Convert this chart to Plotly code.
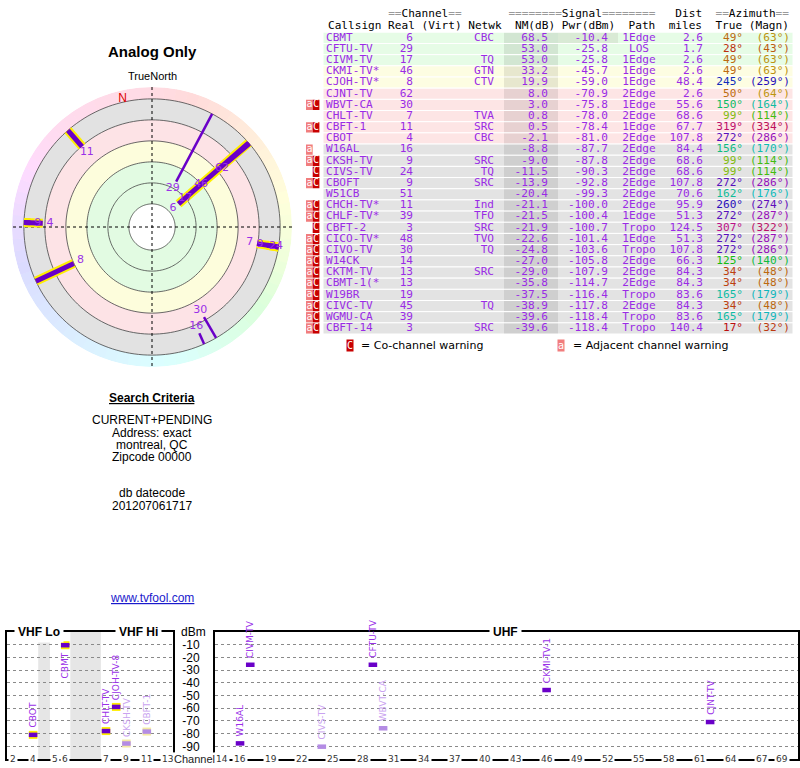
import colorsys
import numpy as np
import plotly.graph_objects as go

# ---------------- station list (analog, montreal QC) ----------------
callsigns = ["CBMT", "CFTU-TV", "CIVM-TV", "CKMI-TV*", "CJOH-TV*", "CJNT-TV", "WBVT-CA",
             "CHLT-TV", "CBFT-1", "CBOT", "W16AL", "CKSH-TV", "CIVS-TV", "CBOFT", "W51CB",
             "CHCH-TV*", "CHLF-TV*", "CBFT-2", "CICO-TV*", "CIVO-TV", "W14CK", "CKTM-TV",
             "CBMT-1(*", "W19BR", "CIVC-TV", "WGMU-CA", "CBFT-14"]
real_ch = [6, 29, 17, 46, 8, 62, 30, 7, 11, 4, 16, 9, 24, 9, 51, 11, 39, 3, 48, 30, 14, 13,
           13, 19, 45, 39, 3]
networks = ["CBC", "", "TQ", "GTN", "CTV", "", "", "TVA", "SRC", "CBC", "", "SRC", "TQ", "SRC",
            "", "Ind", "TFO", "SRC", "TVO", "TQ", "", "SRC", "", "", "TQ", "", "SRC"]
nm_db = [68.5, 53.0, 53.0, 33.2, 19.9, 8.0, 3.0, 0.8, 0.5, -2.1, -8.8, -9.0, -11.5, -13.9,
         -20.4, -21.1, -21.5, -21.9, -22.6, -24.8, -27.0, -29.0, -35.8, -37.5, -38.9, -39.6, -39.6]
pwr_dbm = [-10.4, -25.8, -25.8, -45.7, -59.0, -70.9, -75.8, -78.0, -78.4, -81.0, -87.7, -87.8,
           -90.3, -92.8, -99.3, -100.0, -100.4, -100.7, -101.4, -103.6, -105.8, -107.9, -114.7,
           -116.4, -117.8, -118.4, -118.4]
paths = ["1Edge", "LOS", "1Edge", "1Edge", "1Edge", "2Edge", "1Edge", "2Edge", "1Edge", "2Edge",
         "2Edge", "2Edge", "2Edge", "2Edge", "2Edge", "2Edge", "1Edge", "Tropo", "1Edge", "Tropo",
         "2Edge", "2Edge", "2Edge", "Tropo", "2Edge", "Tropo", "Tropo"]
dist_mi = [2.6, 1.7, 2.6, 2.6, 48.4, 2.6, 55.6, 68.6, 67.7, 107.8, 84.4, 68.6, 68.6, 107.8, 70.6,
           95.9, 51.3, 124.5, 51.3, 107.8, 66.3, 84.3, 84.3, 83.6, 84.3, 83.6, 140.4]
az_true = [49, 28, 49, 49, 245, 50, 150, 99, 319, 272, 156, 99, 99, 272, 162, 260, 272, 307, 272,
           272, 125, 34, 34, 165, 34, 165, 17]
az_magn = [63, 43, 63, 63, 259, 64, 164, 114, 334, 286, 170, 114, 114, 286, 176, 274, 287, 322,
           287, 286, 140, 48, 48, 179, 48, 179, 32]
warn_adj = [0, 0, 0, 0, 0, 0, 1, 0, 1, 0, 1, 1, 0, 1, 0, 1, 1, 0, 1, 1, 1, 1, 1, 1, 1, 1, 1]
warn_co = [0, 0, 0, 0, 0, 0, 1, 0, 1, 0, 0, 1, 1, 1, 0, 1, 1, 1, 1, 1, 1, 1, 1, 1, 1, 1, 1]

# ---------------- spectrum panel ----------------
spec_labels = ["CBOT", "CBMT", "CHLT-TV", "CJOH-TV-8", "CKSH-TV", "CBFT-1", "W16AL", "CIVM-TV",
               "CIVS-TV", "CFTU-TV", "WBVT-CA", "CKMI-TV-1", "CJNT-TV"]
spec_ch = [4, 6, 7, 8, 9, 11, 16, 17, 24, 29, 30, 46, 62]
spec_dbm = [-81.0, -10.4, -78.0, -59.0, -87.8, -78.4, -87.7, -25.8, -90.3, -25.8, -75.8, -45.7, -70.9]
spec_faded = [0, 0, 0, 0, 1, 1, 0, 0, 1, 0, 1, 0, 0]
vhf_ticks = [2, 4, 5, 6, 7, 9, 11, 13]
uhf_ticks = [14, 16, 19, 22, 25, 28, 31, 34, 37, 40, 43, 46, 49, 52, 55, 58, 61, 64, 67, 69]
dbm_ticks = [-10, -20, -30, -40, -50, -60, -70, -80, -90]

W, H = 800, 768
MONO = "DejaVu Sans Mono"
SANS = "Liberation Sans, Arial"
TXT_PURPLE = "#9a2be6"
BAR_PURPLE = "#6a00c8"


def px_x(v):
    return v / W


def px_y(v):
    return 1 - v / H


# colour wheel used for azimuths (text colours and the outer ring)
AZ_KEYS = [0, 17, 49, 99, 125, 150, 165, 245, 272, 307, 319, 360]
HUE_KEYS = [-15, 0, 32, 80, 118, 150, 172, 230, 265, 318, 328, 345]


def az_color(a, sat, light):
    h = (np.interp(a % 360, AZ_KEYS, HUE_KEYS) % 360) / 360
    r, g, b = colorsys.hls_to_rgb(h, light, sat)
    return "rgb(%d,%d,%d)" % (r * 255, g * 255, b * 255)


fig = go.Figure()
n = len(callsigns)
rows = list(range(n))

# ==========================
#  table (right side)
# ==========================
def row_fill(v):
    if v >= 40:
        return "#e6fce6"
    if v >= 15:
        return "#fdfde2"
    if v >= -5:
        return "#fde5e5"
    return "#e3e3e3"


fig.add_trace(go.Bar(
    y=rows, x=[470] * n, base=323, orientation="h", width=1,
    marker=dict(color=[row_fill(v) for v in nm_db], line=dict(color="white", width=1)),
    hoverinfo="skip"))
# darker NM(dB) column
fig.add_trace(go.Bar(
    y=rows, x=[54] * n, base=504, orientation="h", width=0.9,
    marker=dict(color="rgba(0,0,0,0.085)", line=dict(width=0)), hoverinfo="skip"))
# strongest power cell
fig.add_trace(go.Bar(
    y=rows[:1], x=[60], base=558, orientation="h", width=0.9,
    marker=dict(color="rgba(90,60,40,0.09)", line=dict(width=0)), hoverinfo="skip"))

# warning boxes
adj_rows = [i for i in rows if warn_adj[i]]
co_rows = [i for i in rows if warn_co[i]]
fig.add_trace(go.Bar(y=adj_rows, x=[6.7] * len(adj_rows), base=306, orientation="h", width=0.92,
                     marker=dict(color="#f17d7d", line=dict(width=0)), hoverinfo="skip"))
fig.add_trace(go.Bar(y=co_rows, x=[6.7] * len(co_rows), base=312.7, orientation="h", width=0.92,
                     marker=dict(color="#c80000", line=dict(width=0)), hoverinfo="skip"))
fig.add_trace(go.Scatter(x=[309.4] * len(adj_rows), y=adj_rows, mode="text",
                         text=["a"] * len(adj_rows), textposition="middle center",
                         textfont=dict(family=MONO, size=10, color="white"), hoverinfo="skip"))
fig.add_trace(go.Scatter(x=[316.1] * len(co_rows), y=co_rows, mode="text",
                         text=["C"] * len(co_rows), textposition="middle center",
                         textfont=dict(family=MONO, size=10, color="white"), hoverinfo="skip"))


def col_text(x, texts, pos, colors=TXT_PURPLE):
    fig.add_trace(go.Scatter(
        x=[x] * n, y=rows, mode="text", text=texts, textposition=pos,
        textfont=dict(family=MONO, size=11.1, color=colors), hoverinfo="skip", cliponaxis=False))


col_text(326, callsigns, "middle right")
col_text(413, [str(c) for c in real_ch], "middle left")
col_text(494, networks, "middle left")
col_text(548, ["%.1f" % v for v in nm_db], "middle left")
col_text(608, ["%.1f" % v for v in pwr_dbm], "middle left")
col_text(639, paths, "middle center")
col_text(703, ["%.1f" % v for v in dist_mi], "middle left")
col_text(743, ["%d\u00b0" % a for a in az_true], "middle left",
         [az_color(a, 0.85, 0.40) for a in az_true])
col_text(790, ["(%d\u00b0)" % a for a in az_magn], "middle left",
         [az_color(a, 0.85, 0.40) for a in az_magn])

# ==========================
#  radar plot (left)
# ==========================
NM_CENTER = 102      # NM value at the centre of the radar
NM_EDGE = -31.3      # NM value at the rim


def to_r(v):
    return NM_CENTER - v


band_top = [NM_CENTER, 80, 40, 20, 0]
band_bot = [80, 40, 20, 0, -20]
band_colors = ["#ffffff", "#e2fbe2", "#fdfddc", "#fde3e6", "#e2e2e2"]
fig.add_trace(go.Barpolar(
    r=[t - b for t, b in zip(band_top, band_bot)], base=[to_r(t) for t in band_top],
    theta=[0] * len(band_top), width=[360] * len(band_top),
    marker=dict(color=band_colors, line=dict(width=0)), hoverinfo="skip", subplot="polar"))

ring_theta = list(range(0, 360, 5))
fig.add_trace(go.Barpolar(
    r=[to_r(NM_EDGE) - to_r(-20)] * len(ring_theta), base=[to_r(-20)] * len(ring_theta),
    theta=[t + 2.5 for t in ring_theta], width=[5.2] * len(ring_theta),
    marker=dict(color=[az_color(t + 2.5, 1.0, 0.93) for t in ring_theta], line=dict(width=0)),
    hoverinfo="skip", subplot="polar"))

# range circles
circ_t, circ_r = [], []
for lvl in [80, 60, 40, 20, 0, -20]:
    circ_t += list(range(0, 361, 2)) + [None]
    circ_r += [to_r(lvl)] * 181 + [None]
fig.add_trace(go.Scatterpolar(r=circ_r, theta=circ_t, mode="lines",
                              line=dict(color="#444444", width=0.8), hoverinfo="skip",
                              subplot="polar"))
# compass cross
rim = to_r(NM_EDGE)
fig.add_trace(go.Scatterpolar(r=[rim, 0, rim, None, rim, 0, rim],
                              theta=[0, 0, 180, None, 90, 90, 270], mode="lines",
                              line=dict(color="black", width=1, dash="dot"), hoverinfo="skip",
                              subplot="polar"))

radar = [i for i in rows if nm_db[i] > -15]
thick = [i for i in radar if real_ch[i] <= 13]
thin = [i for i in radar if real_ch[i] > 13]
# labels are pulled 7 units inwards; a crowded one is pushed outwards instead
label_nudge = {"CIVS-TV": 13}


def segs(idx):
    rr, tt = [], []
    for i in idx:
        rr += [to_r(nm_db[i]), to_r(-20), None]
        tt += [az_true[i], az_true[i], None]
    return rr, tt


rr, tt = segs(thick)
fig.add_trace(go.Scatterpolar(r=rr, theta=tt, mode="lines", line=dict(color="#ffee00", width=9),
                              hoverinfo="skip", subplot="polar"))
fig.add_trace(go.Scatterpolar(r=rr, theta=tt, mode="lines", line=dict(color=BAR_PURPLE, width=5),
                              hoverinfo="skip", subplot="polar"))
rr, tt = segs(thin)
fig.add_trace(go.Scatterpolar(r=rr, theta=tt, mode="lines", line=dict(color=BAR_PURPLE, width=2.5),
                              hoverinfo="skip", subplot="polar"))
fig.add_trace(go.Scatterpolar(
    r=[to_r(nm_db[i]) - 7 + label_nudge.get(callsigns[i], 0) for i in radar],
    theta=[az_true[i] for i in radar], mode="text",
    text=[str(real_ch[i]) for i in radar],
    textfont=dict(family="DejaVu Sans", size=11, color="#9a30e8"),
    hoverinfo="skip", subplot="polar"))
fig.add_trace(go.Scatterpolar(r=[124.8], theta=[-13], mode="text", text=["N"],
                              textfont=dict(family=SANS, size=12, color="#dd0000"),
                              hoverinfo="skip", subplot="polar"))

# ==========================
#  spectrum (bottom)
# ==========================
def vhf_slot(ch):
    return ch - 2 + (1.15 if ch >= 5 else 0) + (3.0 if ch >= 7 else 0)


def spec_x(ch):
    return vhf_slot(ch) if ch <= 13 else ch


for band, xa, ya in [(True, "x2", "y2"), (False, "x3", "y3")]:
    for faded in (0, 1):
        idx = [i for i in range(len(spec_ch)) if (spec_ch[i] <= 13) == band and spec_faded[i] == faded]
        if not idx:
            continue
        xs, ys = [], []
        for i in idx:
            xc = spec_x(spec_ch[i])
            xs += [xc - 0.42, xc + 0.42, None]
            ys += [spec_dbm[i], spec_dbm[i], None]
        if band:
            fig.add_trace(go.Scatter(x=xs, y=ys, mode="lines", xaxis=xa, yaxis=ya,
                                     line=dict(color="#f3eaa4" if faded else "#ffee00", width=8),
                                     hoverinfo="skip"))
        fig.add_trace(go.Scatter(x=xs, y=ys, mode="lines", xaxis=xa, yaxis=ya,
                                 line=dict(color="#b48ce4" if faded else BAR_PURPLE, width=4.5),
                                 hoverinfo="skip"))

annotations = []
for i, lab in enumerate(spec_labels):
    vhf = spec_ch[i] <= 13
    above = spec_dbm[i] < -20
    annotations.append(dict(
        x=spec_x(spec_ch[i]), y=spec_dbm[i], xref="x2" if vhf else "x3", yref="y2" if vhf else "y3",
        text=lab, textangle=-90, showarrow=False, xanchor="center",
        yanchor="bottom" if above else "top", yshift=5 if above else -5,
        font=dict(family="DejaVu Sans", size=9, color="#c9a2f0" if spec_faded[i] else "#9a30e8")))

for t in vhf_ticks:
    annotations.append(dict(x=vhf_slot(t), y=0, xref="x2", yref="y2 domain", text=str(t),
                            showarrow=False, bgcolor="white", borderpad=1,
                            xanchor="center", yanchor="middle",
                            font=dict(family="DejaVu Sans", size=9, color="#333")))
for t in uhf_ticks:
    annotations.append(dict(x=t, y=0, xref="x3", yref="y3 domain", text=str(t),
                            showarrow=False, bgcolor="white", borderpad=1,
                            xanchor="center", yanchor="middle", xshift=2 if t == 14 else 0,
                            font=dict(family="DejaVu Sans", size=9, color="#333")))

for txt, x in [("VHF Lo", 39), ("VHF Hi", 138), ("UHF", 505)]:
    annotations.append(dict(x=px_x(x), y=px_y(632), xref="paper", yref="paper",
                            text="<b>%s</b>" % txt, showarrow=False, bgcolor="white", borderpad=3,
                            xanchor="center", yanchor="middle",
                            font=dict(family=SANS, size=12, color="black")))
annotations.append(dict(x=px_x(193), y=px_y(632), xref="paper", yref="paper", text="dBm",
                        showarrow=False, xanchor="center", yanchor="middle",
                        font=dict(family=SANS, size=12, color="black")))
annotations.append(dict(x=px_x(194), y=px_y(759), xref="paper", yref="paper", text="Channel",
                        showarrow=False, bgcolor="white", borderpad=0,
                        xanchor="center", yanchor="middle",
                        font=dict(family=SANS, size=11, color="#222")))

gray_gaps = [(4, 5), (6, 7)]
shapes = []
for lo, hi in gray_gaps:
    shapes.append(dict(type="rect", xref="x2", yref="y2 domain", x0=vhf_slot(lo) + 0.5,
                       x1=vhf_slot(hi) - 0.5, y0=0, y1=1, fillcolor="#e6e6e6",
                       line=dict(width=0), layer="below"))

# ==========================
#  headers and side texts
# ==========================
nb = "\u00a0"
g = "<span style='color:#9a9a9a'>%s</span>"
head1 = (nb * 9 + g % "==" + "Channel" + g % "==" + nb * 7 + g % "========" + "Signal"
         + g % "========" + nb * 3 + "Dist" + nb * 2 + g % "==" + "Azimuth" + g % "==")
head2 = ("Callsign Real (Virt) Netwk  NM(dB) Pwr(dBm)  Path  miles  True (Magn)").replace(" ", nb)
for txt, y in [(head1, 14), (head2, 25.5)]:
    annotations.append(dict(x=326, y=px_y(y), xref="x", yref="paper", text=txt, showarrow=False,
                            xanchor="left", yanchor="middle",
                            font=dict(family=MONO, size=11.1, color="black")))

annotations.append(dict(x=350, y=px_y(345), xref="x", yref="paper", text="C", showarrow=False,
                        bgcolor="#c80000", borderpad=0, xanchor="center", yanchor="middle",
                        font=dict(family=MONO, size=10, color="white")))
annotations.append(dict(x=359, y=px_y(345), xref="x", yref="paper", text="= Co-channel warning",
                        showarrow=False, xanchor="left", yanchor="middle",
                        font=dict(family="DejaVu Sans", size=11, color="black")))
annotations.append(dict(x=561, y=px_y(345), xref="x", yref="paper", text="a", showarrow=False,
                        bgcolor="#f17d7d", borderpad=0, xanchor="center", yanchor="middle",
                        font=dict(family=MONO, size=10, color="white")))
annotations.append(dict(x=571, y=px_y(345), xref="x", yref="paper",
                        text="= Adjacent channel warning", showarrow=False, xanchor="left",
                        yanchor="middle",
                        font=dict(family="DejaVu Sans", size=11, color="black")))

side = [("<b>Analog Only</b>", 51, 15), ("TrueNorth", 76, 11),
        ("<b><u>Search Criteria</u></b>", 398, 12), ("CURRENT+PENDING", 420, 12),
        ("Address: exact", 433, 12), ("montreal, QC", 445, 12), ("Zipcode 00000", 457, 12),
        ("db datecode", 493, 12), ("201207061717", 506, 12)]
for txt, y, sz in side:
    annotations.append(dict(x=px_x(152), y=px_y(y), xref="paper", yref="paper", text=txt,
                            showarrow=False, xanchor="center", yanchor="middle",
                            font=dict(family=SANS, size=sz, color="black")))
annotations.append(dict(x=px_x(152), y=px_y(598), xref="paper", yref="paper",
                        text="<u>www.tvfool.com</u>", showarrow=False,
                        xanchor="center", yanchor="middle",
                        font=dict(family=SANS, size=12, color="#1a1acc")))

# ==========================
#  layout
# ==========================
frame = dict(showline=True, mirror=True, linecolor="black", linewidth=2, zeroline=False,
             fixedrange=True)
fig.update_layout(
    width=W, height=H, margin=dict(l=0, r=0, t=0, b=0),
    paper_bgcolor="white", plot_bgcolor="rgba(0,0,0,0)",
    showlegend=False, hovermode=False, barmode="overlay",
    xaxis=dict(domain=[px_x(300), 1], range=[300, 800], visible=False, fixedrange=True),
    yaxis=dict(domain=[px_y(334), px_y(32.3)], range=[n - 0.5, -0.5], visible=False,
               fixedrange=True),
    xaxis2=dict(domain=[px_x(7), px_x(173)], range=[-0.56, 15.72], showticklabels=False,
                showgrid=False, ticks="", anchor="y2", **frame),
    yaxis2=dict(domain=[px_y(759), px_y(632)], range=[-100, 0], tickvals=dbm_ticks,
                showticklabels=False, showgrid=True, gridcolor="#8a8a8a", griddash="dot",
                gridwidth=1, ticks="", anchor="x2", **frame),
    xaxis3=dict(domain=[px_x(215), px_x(798)], range=[13.55, 70.6], showticklabels=False,
                showgrid=False, ticks="", anchor="y3", **frame),
    yaxis3=dict(domain=[px_y(759), px_y(632)], range=[-100, 0], tickvals=dbm_ticks,
                ticktext=[str(v) for v in dbm_ticks], showgrid=True, gridcolor="#8a8a8a",
                griddash="dot", gridwidth=1, ticks="outside", ticklen=11, tickcolor="white",
                tickfont=dict(family=SANS, size=12, color="black"), anchor="x3", **frame),
    polar=dict(
        domain=dict(x=[px_x(12), px_x(292)], y=[px_y(367), px_y(87)]),
        bgcolor="rgba(0,0,0,0)", barmode="overlay",
        radialaxis=dict(range=[0, to_r(NM_EDGE)], visible=False),
        angularaxis=dict(rotation=90, direction="clockwise", showticklabels=False,
                         showgrid=False, showline=False, ticks="")),
    annotations=annotations, shapes=shapes,
)

# the page body has a default 8px margin; drop it so the figure sits at 0,0
fig.write_html("out.html", config={"displayModeBar": False},
               post_script="document.body.style.margin='0px';")
